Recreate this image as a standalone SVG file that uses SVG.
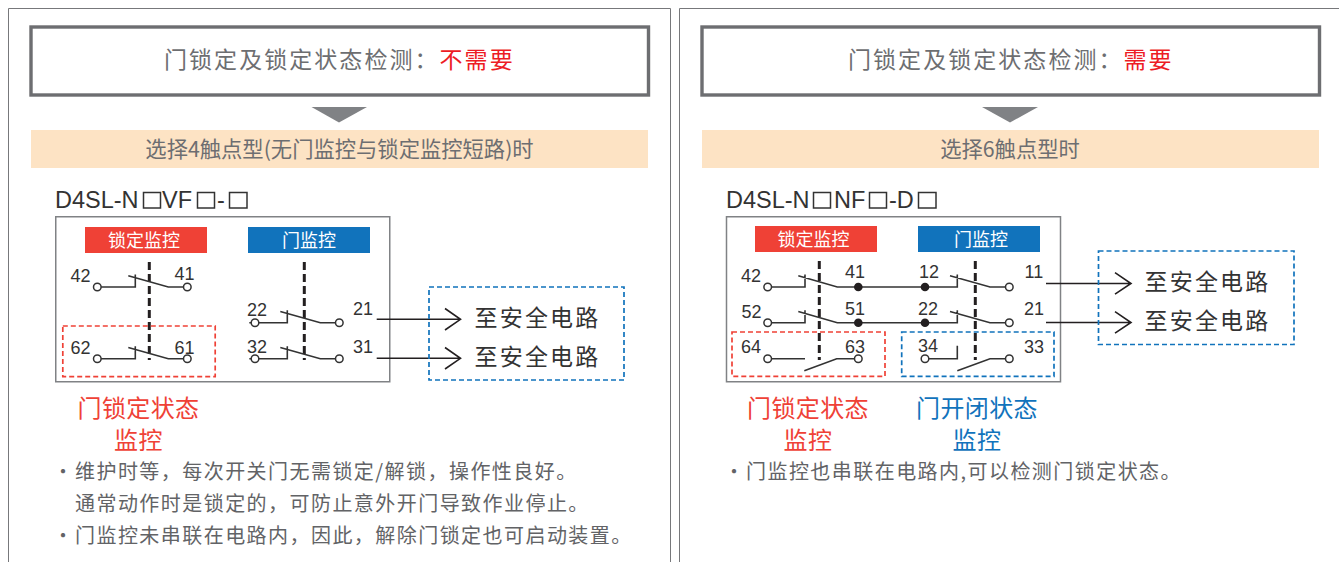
<svg xmlns="http://www.w3.org/2000/svg" width="1339" height="562" viewBox="0 0 1339 562">
<defs>
<style>
text{font-family:"Noto Sans CJK SC","Liberation Sans",sans-serif}
.panel{fill:none;stroke:#77787b;stroke-width:1}
.head{fill:#fff;stroke:#6d6e71;stroke-width:3.400}
.tri{fill:#808285}
.band{fill:#fde3c4}
.box{fill:#fff;stroke:#808285;stroke-width:1.500}
.wire{fill:none;stroke:#333;stroke-width:1.600}
.arrow{fill:none;stroke:#231f20;stroke-width:1.600}
.term{fill:#fff;stroke:#333;stroke-width:1.500}
.dot{fill:#231f20}
.link{fill:none;stroke:#231f20;stroke-width:3;stroke-dasharray:8 4}
.rd{fill:none;stroke:#ef4136;stroke-width:1.700;stroke-dasharray:5 3}
.bd{fill:none;stroke:#1173bc;stroke-width:1.700;stroke-dasharray:5 3}
.num{font-family:"Liberation Sans",sans-serif;font-size:18px;fill:#333}
.t1{font-size:23px;fill:#6d6e71;letter-spacing:2.050px}
.t2{font-size:21.300px;fill:#6d6e71}
.model{font-family:"Liberation Sans","Noto Sans CJK SC",sans-serif;font-size:23.500px;fill:#333}
.lbl{font-size:18px;fill:#fff;text-anchor:middle}
.dest{font-size:23px;fill:#333;letter-spacing:2.200px}
.cap{font-size:24px;letter-spacing:.4px;text-anchor:middle}
.note{font-size:20px;fill:#626366;letter-spacing:1.450px}
.sq{fill:none;stroke:#333;stroke-width:1.500}
</style>
<g id="contact-nc"><path class="wire" d="M0 0H38V-12.500M31-11.300L71 0H90"/></g>
</defs>

<g id="panel-left">
<path class="panel" d="M8.500 562V8.500H670.500V562"/>
</g>
<g id="panel-right">
<path class="panel" d="M679.500 562V8.500H1339"/>
</g>

<g id="header-left">
<rect class="head" x="31" y="27" width="617.500" height="68"/>
<text x="164" y="67.500" class="t1">门锁定及锁定状态检测：<tspan fill="#ed1c24">不需要</tspan></text>
<polygon class="tri" points="311.500,107 367,107 339,122.500"/>
</g>
<g id="header-right">
<rect class="head" x="702" y="27" width="617.500" height="68"/>
<text x="848" y="67.500" class="t1">门锁定及锁定状态检测：<tspan fill="#ed1c24">需要</tspan></text>
<polygon class="tri" points="982,107 1038,107 1010,122.500"/>
</g>
<g id="band-left">
<rect class="band" x="31" y="130" width="617" height="38"/>
<text x="339.500" y="157" class="t2" text-anchor="middle">选择4触点型(无门监控与锁定监控短路)时</text>
</g>
<g id="band-right">
<rect class="band" x="702" y="130" width="617" height="38"/>
<text x="1010" y="157" class="t2" text-anchor="middle">选择6触点型时</text>
</g>

<g id="model-left">
<text x="55" y="208" class="model">D4SL-N</text>
<rect class="sq" x="143.500" y="192.500" width="17" height="15.500"/>
<text x="162" y="208" class="model">VF</text>
<rect class="sq" x="197.500" y="192.500" width="17" height="15.500"/>
<text x="217" y="208" class="model">-</text>
<rect class="sq" x="229.500" y="192.500" width="17.500" height="15.500"/>
</g>
<g id="model-right">
<text x="726" y="208" class="model">D4SL-N</text>
<rect class="sq" x="813.500" y="192.500" width="17" height="15.500"/>
<text x="834" y="208" class="model">NF</text>
<rect class="sq" x="869.500" y="192.500" width="17" height="15.500"/>
<text x="889" y="208" class="model">-D</text>
<rect class="sq" x="918.500" y="192.500" width="17.500" height="15.500"/>
</g>

<g id="circuit-left">
<rect class="box" x="55.750" y="216.750" width="334" height="165"/>
<rect x="85" y="227" width="122" height="26" fill="#ef4136"/>
<text x="144" y="246.500" class="lbl">锁定监控</text>
<rect x="248" y="227" width="122" height="26" fill="#1173bc"/>
<text x="309" y="246.500" class="lbl">门监控</text>
<path class="link" d="M149.300 262V360M304.300 262V360"/>
<rect class="rd" x="62.800" y="326" width="152.400" height="50.600"/>
<use href="#contact-nc" x="97.300" y="287"/>
<use href="#contact-nc" x="97.300" y="358.700"/>
<use href="#contact-nc" x="249.300" y="322.700"/>
<use href="#contact-nc" x="249.300" y="358.700"/>
<g class="term">
<circle cx="97.300" cy="287" r="3.800"/><circle cx="187.300" cy="287" r="3.800"/>
<circle cx="97.300" cy="358.700" r="3.800"/><circle cx="187.300" cy="358.700" r="3.800"/>
<circle cx="255" cy="322.700" r="3.800"/><circle cx="339.300" cy="322.700" r="3.800"/>
<circle cx="255" cy="358.700" r="3.800"/><circle cx="339.300" cy="358.700" r="3.800"/>
</g>
<text x="70.500" y="281.500" class="num">42</text><text x="174.500" y="280" class="num">41</text>
<text x="70.500" y="354" class="num">62</text><text x="174.500" y="354" class="num">61</text>
<text x="247" y="315.500" class="num">22</text><text x="353" y="314.500" class="num">21</text>
<text x="247" y="353" class="num">32</text><text x="353" y="352.500" class="num">31</text>
</g>

<g id="circuit-right">
<rect class="box" x="726.500" y="216.750" width="334" height="165"/>
<rect x="755" y="226" width="122" height="26" fill="#ef4136"/>
<text x="813.500" y="245.500" class="lbl">锁定监控</text>
<rect x="918" y="226" width="122" height="26" fill="#1173bc"/>
<text x="981" y="245.500" class="lbl">门监控</text>
<path class="link" d="M819.300 261V360M975.300 261V360"/>
<rect class="rd" x="732" y="332" width="153" height="44.300"/>
<rect class="bd" x="901.700" y="332" width="152.300" height="44.300"/>
<path class="wire" d="M767.700 287H805V274.500M798.300 275.700L837.300 287H957.300V274.500M950 275.700L990 287H1009.300"/>
<path class="wire" d="M767.700 322.700H805V310.200M798.300 311.400L837.300 322.700H957.300V310.200M950 311.400L990 322.700H1009.300"/>
<path class="wire" d="M767.700 358.700H805M804.300 370.700L836.700 358.700H858.300M925 358.700H957.300V345.700M957.300 370.700L990 358.700H1009.300"/>
<g class="dot">
<circle cx="858.300" cy="287" r="4.300"/><circle cx="925" cy="287" r="4.300"/>
<circle cx="858.300" cy="322.700" r="4.300"/><circle cx="925" cy="322.700" r="4.300"/>
</g>
<g class="term">
<circle cx="767.700" cy="287" r="3.800"/><circle cx="1009.300" cy="287" r="3.800"/>
<circle cx="767.700" cy="322.700" r="3.800"/><circle cx="1009.300" cy="322.700" r="3.800"/>
<circle cx="767.700" cy="358.700" r="3.800"/><circle cx="858.300" cy="358.700" r="3.800"/>
<circle cx="925" cy="358.700" r="3.800"/><circle cx="1009.300" cy="358.700" r="3.800"/>
</g>
<text x="741" y="281.500" class="num">42</text><text x="845" y="278.300" class="num">41</text>
<text x="919" y="278.300" class="num">12</text><text x="1024.500" y="278.300" class="num">11</text>
<text x="741.500" y="318" class="num">52</text><text x="845" y="315" class="num">51</text>
<text x="918" y="315" class="num">22</text><text x="1024" y="314.500" class="num">21</text>
<text x="741" y="353.300" class="num">64</text><text x="845" y="352.700" class="num">63</text>
<text x="918" y="351.700" class="num">34</text><text x="1024" y="352.700" class="num">33</text>
</g>

<g id="connectors">
<path class="arrow" d="M376.700 319.300H460.500M445 308.500L460.500 319.300L445 330M376.700 358.300H460.500M445 347.500L460.500 358.300L445 369"/>
<path class="arrow" d="M1046 283.500H1131M1115 272.700L1131 283.500L1115 294.200M1046 322.500H1131M1115 311.700L1131 322.500L1115 333.200"/>
</g>

<g id="dest-left">
<rect class="bd" x="429" y="287" width="195" height="93"/>
<text x="474.500" y="325.500" class="dest">至安全电路</text>
<text x="474.500" y="364.500" class="dest">至安全电路</text>
</g>
<g id="dest-right">
<rect class="bd" x="1098.500" y="251" width="195.500" height="93.500"/>
<text x="1144.500" y="289.500" class="dest">至安全电路</text>
<text x="1144.500" y="328.500" class="dest">至安全电路</text>
</g>

<g id="captions">
<text x="138.500" y="417" class="cap" fill="#ef4136">门锁定状态</text>
<text x="138.500" y="449" class="cap" fill="#ef4136">监控</text>
<text x="808" y="416.500" class="cap" fill="#ef4136">门锁定状态</text>
<text x="808" y="448.500" class="cap" fill="#ef4136">监控</text>
<text x="977" y="416.500" class="cap" fill="#1173bc">门开闭状态</text>
<text x="977" y="448.500" class="cap" fill="#1173bc">监控</text>
</g>

<g id="notes">
<text x="53" y="478.500" class="note">・</text>
<text x="75" y="478.500" class="note">维护时等，每次开关门无需锁定/解锁，操作性良好。</text>
<text x="75" y="511" class="note">通常动作时是锁定的，可防止意外开门导致作业停止。</text>
<text x="53" y="543" class="note">・</text>
<text x="75" y="543" class="note">门监控未串联在电路内，因此，解除门锁定也可启动装置。</text>
<text x="724" y="478.500" class="note">・</text>
<text x="746" y="478.500" class="note">门监控也串联在电路内,可以检测门锁定状态。</text>
</g>
</svg>
